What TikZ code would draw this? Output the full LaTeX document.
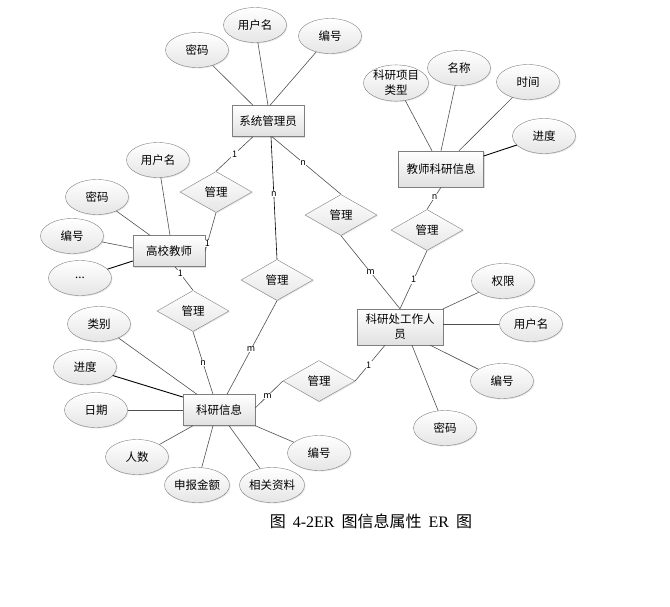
\documentclass[tikz,border=0pt]{standalone}
\usepackage{fontspec}
\setmainfont{Noto Sans CJK SC}
\newfontfamily\capserif{Liberation Serif}
\usetikzlibrary{shapes.geometric,shadows}
\definecolor{rimgray}{HTML}{7F7F7F}
\definecolor{edgegray}{HTML}{505050}
\tikzset{ent/.style={draw=rimgray,rectangle,top color=white,bottom color=black!12,align=center,
  minimum width=72pt,minimum height=31pt,inner sep=2pt,font=\fontsize{11.5}{15}\selectfont,
  drop shadow={shadow xshift=1.2pt,shadow yshift=-1.2pt,opacity=0.25}},
  attr/.style={draw=rimgray,ellipse,top color=white,bottom color=black!10,align=center,
  minimum width=63pt,minimum height=35pt,inner sep=0pt,font=\fontsize{11.5}{15}\selectfont,
  drop shadow={shadow xshift=1pt,shadow yshift=-1pt,opacity=0.2}},
  rel/.style={draw=rimgray,diamond,top color=white,bottom color=black!10,
  minimum width=72pt,minimum height=41pt,inner sep=0pt,font=\fontsize{11.5}{15}\selectfont,
  drop shadow={shadow xshift=1pt,shadow yshift=-1pt,opacity=0.2}},
  lnk/.style={draw=edgegray,line width=0.6pt},
  card/.style={font=\fontsize{9}{10}\selectfont,fill=white,inner sep=0.6pt}}
\newcommand{\caplatin}[1]{{\capserif\hspace{7pt}#1\hspace{7pt}}}

\begin{document}
\begin{tikzpicture}[x=1pt,y=-1pt]
\useasboundingbox (0,0) rectangle (670,606);
% entities
\node[ent] (sys) at (268,121) {系统管理员};
\node[ent] (tea) at (169,251) {高校教师};
\node[ent,minimum width=85pt,minimum height=36pt] (tri) at (441,169) {教师科研信息};
\node[ent,minimum width=86pt,minimum height=36pt] (staff) at (400,327) {科研处工作人\\员};
\node[ent] (res) at (219,410) {科研信息};
% relationships
\node[rel] (m1) at (216,192) {管理};
\node[rel] (m2) at (277,280) {管理};
\node[rel] (m3) at (341,215) {管理};
\node[rel] (m4) at (427,230) {管理};
\node[rel] (m5) at (193,311) {管理};
\node[rel] (m6) at (319,381) {管理};
% attributes
\node[attr] (sysPwd) at (197,50) {密码};
\node[attr] (sysUser) at (255,25) {用户名};
\node[attr] (sysNo) at (330,36) {编号};
\node[attr] (teaUser) at (158,160) {用户名};
\node[attr] (teaPwd) at (97,197) {密码};
\node[attr] (teaNo) at (72,236) {编号};
\node[attr] (teaEtc) at (80,278) {...};
\node[attr] (triType) at (396,83) {科研项目\\类型};
\node[attr] (triName) at (459,68) {名称};
\node[attr] (triTime) at (528,82) {时间};
\node[attr] (triProg) at (544,136) {进度};
\node[attr] (stPerm) at (503,281) {权限};
\node[attr] (stUser) at (531,324) {用户名};
\node[attr] (stNo) at (502,381) {编号};
\node[attr] (stPwd) at (445,428) {密码};
\node[attr] (resKind) at (99,324) {类别};
\node[attr] (resProg) at (85,367) {进度};
\node[attr] (resDate) at (96,410) {日期};
\node[attr] (resNum) at (137,457) {人数};
\node[attr] (resSum) at (197,485) {申报金额};
\node[attr] (resDoc) at (272,485) {相关资料};
\node[attr] (resNo) at (319,453) {编号};
% attribute links
\draw[lnk] (sysPwd) -- ([xshift=-15pt]sys.north);
\draw[lnk] (sysUser) -- (sys.north);
\draw[lnk] (sysNo) -- ([xshift=2pt]sys.north);
\draw[lnk] (teaUser) -- ([xshift=1pt]tea.north);
\draw[lnk] (teaPwd) -- ([xshift=-19pt]tea.north);
\draw[lnk] (teaNo) -- ([yshift=3pt]tea.west);
\draw[lnk,line width=0.9pt,black] (teaEtc) -- ([yshift=-10pt]tea.west);
\draw[lnk] (triType) -- ([xshift=-9pt]tri.north);
\draw[lnk] (triName) -- (tri.north);
\draw[lnk] (triTime) -- ([xshift=18pt]tri.north);
\draw[lnk,line width=0.9pt,black] (triProg) -- ([yshift=13pt]tri.east);
\draw[lnk] (stPerm) -- (staff.north east);
\draw[lnk] (stUser) -- ([yshift=3pt]staff.east);
\draw[lnk] (stNo) -- ([xshift=-13pt]staff.south east);
\draw[lnk] (stPwd) -- ([xshift=12pt]staff.south);
\draw[lnk] (resKind) -- ([xshift=-22pt]res.north);
\draw[lnk,line width=0.9pt,black] (resProg) -- ([yshift=13pt]res.west);
\draw[lnk] (resDate) -- (res.west);
\draw[lnk] (resNum) -- ([xshift=-26pt]res.south);
\draw[lnk] (resSum) -- ([xshift=-6pt]res.south);
\draw[lnk] (resDoc) -- ([xshift=10pt]res.south);
\draw[lnk] (resNo) -- (res.south east);
% relationship links
\draw[lnk] ([xshift=-15pt]sys.south) -- node[card,pos=0.5] {1} (m1.north);
\draw[lnk] (m1.south) -- node[card,pos=0.8] {1} (tea.east);
\draw[lnk,black] ([xshift=3pt]sys.south) -- node[card,pos=0.47] {n} (m2.north);
\draw[lnk] ([xshift=4pt]sys.south) -- node[card,pos=0.45] {n} (m3.north);
\draw[lnk] (m3.south) -- node[card,pos=0.5] {m} (staff.north);
\draw[lnk] (tri.south) -- node[card,pos=0.45] {n} (m4.north);
\draw[lnk] (m4.south) -- node[card,pos=0.5] {1} (staff.north);
\draw[lnk] (m2.south) -- node[card,pos=0.52] {m} ([xshift=8pt]res.north);
\draw[lnk] ([xshift=6pt]tea.south) -- node[card,pos=0.3] {1} (m5.north);
\draw[lnk] (m5.south) -- node[card,pos=0.5] {n} ([xshift=-6pt]res.north);
\draw[lnk] ([yshift=2pt]res.east) -- node[card,pos=0.45] {m} (m6.west);
\draw[lnk] (m6.east) -- node[card,pos=0.45] {1} ([xshift=-15pt]staff.south);
% caption
\node[font=\fontsize{16}{18}\selectfont] (cap) at (371,521) {图\caplatin{4-2ER}图信息属性\caplatin{ER}图};
\end{tikzpicture}
\end{document}
